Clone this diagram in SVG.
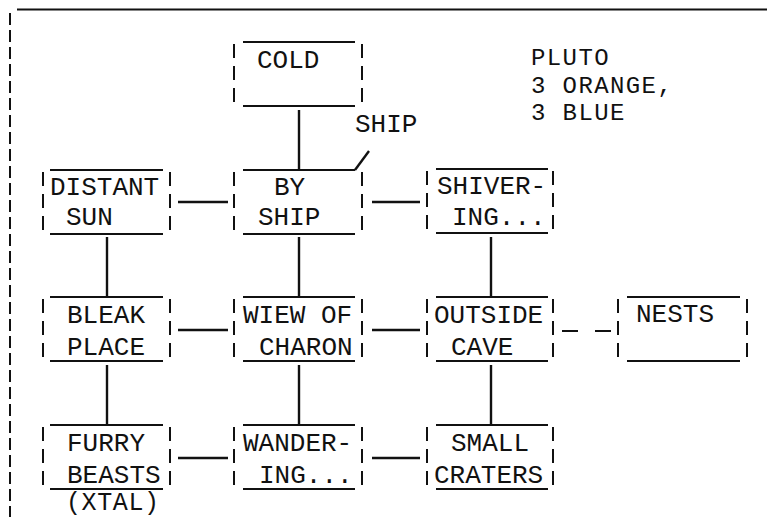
<svg xmlns="http://www.w3.org/2000/svg" width="767" height="517" viewBox="0 0 767 517">
<style>
.bg{fill:#ffffff}
.rule{stroke:#111;stroke-width:2.2;fill:none}
.side{stroke:#111;stroke-width:2;fill:none;stroke-dasharray:14 8}
.frame{stroke:#111;stroke-width:2;fill:none;stroke-dasharray:12 5}
.conn{stroke:#111;stroke-width:2.4;fill:none}
.dconn{stroke:#111;stroke-width:2.2;fill:none;stroke-dasharray:16 17}
text{font-family:"Liberation Mono","DejaVu Sans Mono",monospace;font-size:26px;fill:#111}
.legend{font-size:24px;letter-spacing:1.4px}
.note{font-size:25px;letter-spacing:0.6px}
</style>
<rect class="bg" x="0" y="0" width="767" height="517"/>
<g id="frame">
<line class="rule" x1="17" y1="9.5" x2="767" y2="9.5"/>
<line class="frame" x1="10" y1="13" x2="10" y2="517"/>
</g>
<g id="legend">
<text class="legend" x="531" y="65">PLUTO</text>
<text class="legend" x="531" y="92.5">3 ORANGE,</text>
<text class="legend" x="531" y="120">3 BLUE</text>
</g>
<g id="connectors">
<line class="conn" x1="299" y1="110" x2="299" y2="170"/>
<line class="conn" x1="107" y1="237" x2="107" y2="297"/>
<line class="conn" x1="299" y1="237" x2="299" y2="297"/>
<line class="conn" x1="491" y1="237" x2="491" y2="297"/>
<line class="conn" x1="107" y1="365" x2="107" y2="425"/>
<line class="conn" x1="299" y1="365" x2="299" y2="425"/>
<line class="conn" x1="491" y1="365" x2="491" y2="425"/>
<line class="conn" x1="178" y1="202" x2="228" y2="202"/>
<line class="conn" x1="372" y1="202" x2="420" y2="202"/>
<line class="conn" x1="178" y1="330" x2="228" y2="330"/>
<line class="conn" x1="372" y1="330" x2="420" y2="330"/>
<line class="dconn" x1="562" y1="331" x2="612" y2="331"/>
<line class="conn" x1="178" y1="458" x2="228" y2="458"/>
<line class="conn" x1="372" y1="458" x2="420" y2="458"/>
<line class="conn" x1="355" y1="170" x2="369" y2="151"/>
<text x="355" y="132">SHIP</text>
</g>
<g id="cold">
<path class="rule" d="M243 42H355M243 106H355"/>
<path class="side" d="M234 44V106M362 44V106"/>
<text x="257" y="68">COLD</text>
</g>
<g id="distant-sun">
<path class="rule" d="M50 170H163M50 234H163"/>
<path class="side" d="M43 172V234M170 172V234"/>
<text x="50" y="195">DISTANT</text>
<text x="66" y="225">SUN</text>
</g>
<g id="by-ship">
<path class="rule" d="M243 170H355M243 234H355"/>
<path class="side" d="M234 172V234M362 172V234"/>
<text x="274" y="195">BY</text>
<text x="258" y="225">SHIP</text>
</g>
<g id="shivering">
<path class="rule" d="M436 169H548M436 233H548"/>
<path class="side" d="M427 171V233M553 171V233"/>
<text x="437" y="194">SHIVER-</text>
<text x="452" y="225">ING...</text>
</g>
<g id="bleak-place">
<path class="rule" d="M50 297H163M50 361H163"/>
<path class="side" d="M43 299V361M170 299V361"/>
<text x="67" y="323">BLEAK</text>
<text x="67" y="355">PLACE</text>
</g>
<g id="view-of-charon">
<path class="rule" d="M243 297H355M243 361H355"/>
<path class="side" d="M234 299V361M362 299V361"/>
<text x="243" y="323">WIEW OF</text>
<text x="259" y="355">CHARON</text>
</g>
<g id="outside-cave">
<path class="rule" d="M436 297H548M436 361H548"/>
<path class="side" d="M427 299V361M553 299V361"/>
<text x="434" y="323">OUTSIDE</text>
<text x="451" y="355">CAVE</text>
</g>
<g id="nests">
<path class="rule" d="M627 297H740M627 361H740"/>
<path class="side" d="M618 299V361M747 299V361"/>
<text x="636" y="322">NESTS</text>
</g>
<g id="furry-beasts">
<path class="rule" d="M50 425H163M50 489H163"/>
<path class="side" d="M43 427V489M170 427V489"/>
<text x="67" y="451">FURRY</text>
<text x="67" y="483">BEASTS</text>
<text class="note" x="66" y="509.5">(XTAL)</text>
</g>
<g id="wandering">
<path class="rule" d="M243 425H355M243 489H355"/>
<path class="side" d="M234 427V489M362 427V489"/>
<text x="243" y="451">WANDER-</text>
<text x="259" y="483">ING...</text>
</g>
<g id="small-craters">
<path class="rule" d="M436 425H548M436 489H548"/>
<path class="side" d="M427 427V489M553 427V489"/>
<text x="451" y="451">SMALL</text>
<text x="434" y="483">CRATERS</text>
</g>
</svg>
